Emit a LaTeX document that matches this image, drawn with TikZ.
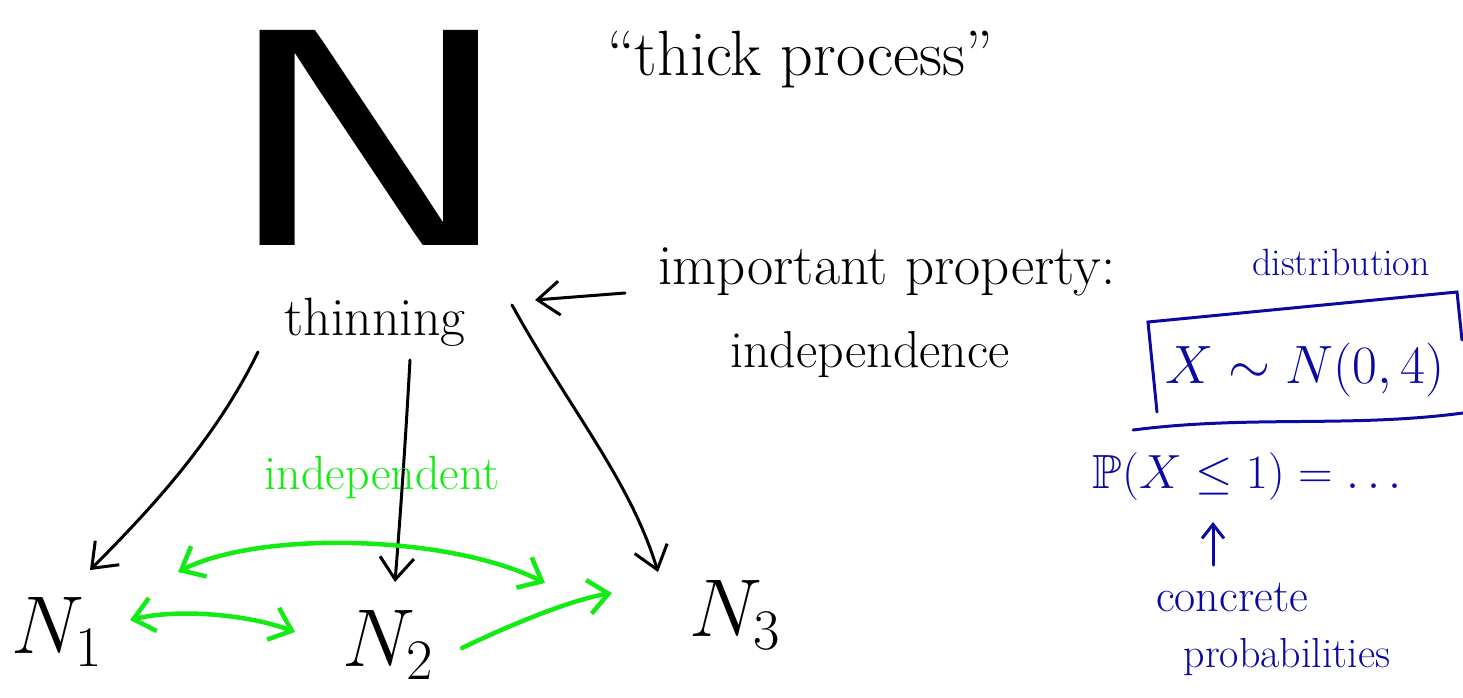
\RequirePackage{fix-cm}
\documentclass[tikz,border=0pt]{standalone}
\usepackage{fontspec}
\usepackage{amssymb}
\usetikzlibrary{arrows.meta}
\definecolor{inkgreen}{RGB}{20,235,20}
\definecolor{inkblue}{RGB}{10,10,160}
\tikzset{
  lbl/.style={inner sep=0pt, font=#1},
  blk/.style={draw=black, line width=3pt, line cap=round, -{Straight Barb[length=22pt,width=34pt,line width=3pt]}},
  grn/.style={draw=inkgreen, line width=4.5pt, line cap=round},
  grnhead/.tip={Straight Barb[length=20pt,width=34pt,line width=4.5pt]},
  bluhead/.tip={Straight Barb[length=14pt,width=22pt,line width=3pt]},
  blu/.style={draw=inkblue, line width=3pt, line cap=round}
}
\newcommand{\fs}[1]{\fontsize{#1}{#1}\selectfont}
\begin{document}
\begin{tikzpicture}[x=1pt,y=-1pt]
\useasboundingbox (0,0) rectangle (1463,697);
% big N
\node[inner sep=0pt] (bigN) at (370,138) {\scalebox{1.45}[1]{\sffamily\fs{310}N}};
\node[lbl=\fs{64}] (thick) at (800,60) {``thick process''};
% thinning
\node[lbl=\fs{54}] (thin) at (375,322) {thinning};
% important property
\node[lbl=\fs{57}] (imp) at (887,272) {important property:};
\node[lbl=\fs{52}] (indep) at (870,355) {independence};
\coordinate (impArrowStart) at (625,293);
\coordinate (impArrowEnd) at (535,300);
\draw[blk] (impArrowStart) -- (impArrowEnd);
% N_i
\node[lbl=\fs{82}] (N1) at (57,632) {$N_1$};
\node[lbl=\fs{82}] (N2) at (388,645) {$N_2$};
\node[lbl=\fs{82}] (N3) at (735,615) {$N_3$};
% thinning arrows
\coordinate (t1) at (258,352);
\coordinate (t2) at (410,360);
\coordinate (t3) at (512,305);
\coordinate (e1) at (90,570);
\coordinate (e2) at (395,582);
\coordinate (e3) at (658,572);
\draw[blk] (t1) .. controls (215,440) and (150,510) .. (e1);
\draw[blk] (t2) .. controls (405,450) and (400,520) .. (e2);
\draw[blk] (t3) .. controls (570,410) and (630,480) .. (e3);
% independent
\node[lbl=\fs{48}, text=inkgreen] (indept) at (382,478) {independent};
\coordinate (g1a) at (130,620);
\coordinate (g1b) at (295,632);
\coordinate (g2a) at (178,572);
\coordinate (g2b) at (545,583);
\coordinate (g3a) at (462,648);
\coordinate (g3b) at (612,593);
\draw[grn, grnhead-grnhead] (g1a) .. controls (180,608) and (250,615) .. (g1b);
\draw[grn, grnhead-grnhead] (g2a) .. controls (260,530) and (450,535) .. (g2b);
\draw[grn, -grnhead] (g3a) .. controls (510,625) and (570,600) .. (g3b);
% blue part
\node[lbl=\fs{38}, text=inkblue] (dist) at (1341,262) {distribution};
\node[lbl=\fs{54}, text=inkblue] (XN) at (1305,370) {$X\sim N(0,4)$};
\draw[blu] (1157,412) -- (1148,322) -- (1457,292) -- (1462,340);
\draw[blu] (1133,430) .. controls (1250,415) and (1350,428) .. (1463,413);
\node[lbl=\fs{48}, text=inkblue] (PX) at (1247,476) {$\mathbb{P}(X\le 1) = \dots$};
\node[lbl=\fs{46}, text=inkblue] (conc) at (1232,598) {concrete};
\node[lbl=\fs{42}, text=inkblue] (prob) at (1287,657) {probabilities};
\coordinate (upStart) at (1213,565);
\coordinate (upEnd) at (1213,522);
\draw[blu, -bluhead] (upStart) -- (upEnd);
\end{tikzpicture}
\end{document}
